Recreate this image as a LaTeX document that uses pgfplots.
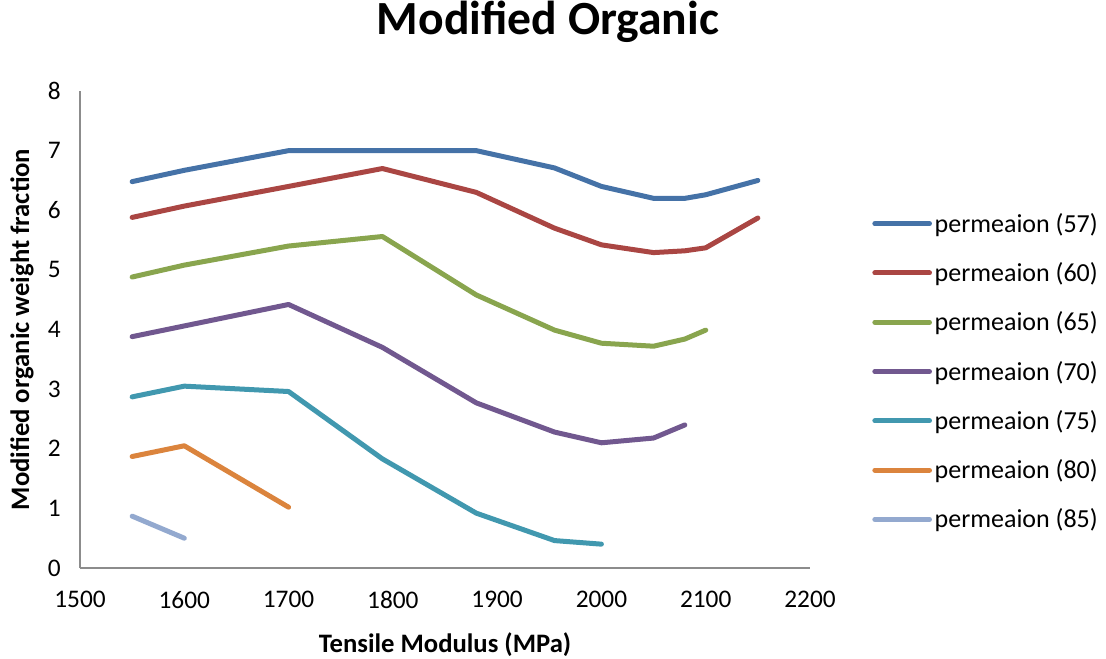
\documentclass[border=0pt]{standalone}
\usepackage{fontspec}
\setmainfont{Carlito}
\usepackage{pgfplots}
\pgfplotsset{compat=1.18}
\definecolor{cA}{HTML}{4572A7}
\definecolor{cB}{HTML}{AA4643}
\definecolor{cC}{HTML}{89A54E}
\definecolor{cD}{HTML}{71588F}
\definecolor{cE}{HTML}{4198AF}
\definecolor{cF}{HTML}{DB843D}
\definecolor{cG}{HTML}{93A9CF}
\begin{document}
\begin{tikzpicture}
\useasboundingbox (-60pt,-67.5pt) rectangle (769.5pt,426pt);
\begin{axis}[
  scale only axis,
  width=547.5pt, height=357.75pt,
  xmin=1500, xmax=2200, ymin=0, ymax=8,
  xtick={1500,1600,...,2200}, ytick={0,1,...,8},
  axis lines*=left,
  axis line style={draw=black!45, line width=1.5pt},
  major tick length=0pt,
  tick style={draw=none},
  /pgf/number format/assume math mode=true,
  /pgf/number format/1000 sep={},
  tick label style={font=\fontsize{19}{22}\selectfont},
  xticklabel style={yshift=-14pt},
  yticklabel style={xshift=-11pt},
  title={\textbf{Modified Organic}},
  title style={font=\fontsize{35.7}{40}\selectfont, at={(axis description cs:0.641,1.128)}, anchor=center},
  xlabel={\textbf{Tensile Modulus (MPa)}},
  xlabel style={font=\fontsize{20}{24}\selectfont, at={(axis description cs:0.5,-0.161)}, anchor=center},
  ylabel={\textbf{Modified organic weight fraction}},
  ylabel style={font=\fontsize{20}{24}\selectfont, at={(axis description cs:-0.0795,0.5)}, anchor=center, rotate=0},
  legend style={draw=none, fill=none, font=\fontsize{19.5}{22}\selectfont,
    at={(axis description cs:1.085,0.75)}, anchor=north west,
    row sep=17.2pt, inner sep=0pt,
    /tikz/every even column/.append style={column sep=0pt}},
  legend cell align=left,
  legend image code/.code={\draw[#1, line width=3.75pt, line cap=round] (0pt,0pt) -- (41pt,0pt);},
  every axis plot/.append style={line width=3.75pt, line cap=round, line join=round, mark=none},
]
\addplot[cA] coordinates {(1550,6.48) (1600,6.67) (1700,7.0) (1790,7.0) (1880,7.0) (1955,6.71) (2000,6.4) (2050,6.2) (2080,6.2) (2100,6.26) (2150,6.5)};
\addlegendentry{permeaion (57)}
\addplot[cB] coordinates {(1550,5.88) (1600,6.07) (1700,6.4) (1790,6.7) (1880,6.3) (1955,5.7) (2000,5.42) (2050,5.29) (2080,5.32) (2100,5.37) (2150,5.87)};
\addlegendentry{permeaion (60)}
\addplot[cC] coordinates {(1550,4.88) (1600,5.08) (1700,5.4) (1790,5.56) (1880,4.58) (1955,3.99) (2000,3.77) (2050,3.72) (2080,3.84) (2100,3.99)};
\addlegendentry{permeaion (65)}
\addplot[cD] coordinates {(1550,3.88) (1600,4.06) (1700,4.42) (1790,3.7) (1880,2.77) (1955,2.28) (2000,2.1) (2050,2.18) (2080,2.4)};
\addlegendentry{permeaion (70)}
\addplot[cE] coordinates {(1550,2.87) (1600,3.05) (1700,2.96) (1790,1.83) (1880,0.92) (1955,0.46) (2000,0.4)};
\addlegendentry{permeaion (75)}
\addplot[cF] coordinates {(1550,1.87) (1600,2.05) (1700,1.02)};
\addlegendentry{permeaion (80)}
\addplot[cG] coordinates {(1550,0.87) (1600,0.5)};
\addlegendentry{permeaion (85)}
\end{axis}
\end{tikzpicture}
\end{document}
